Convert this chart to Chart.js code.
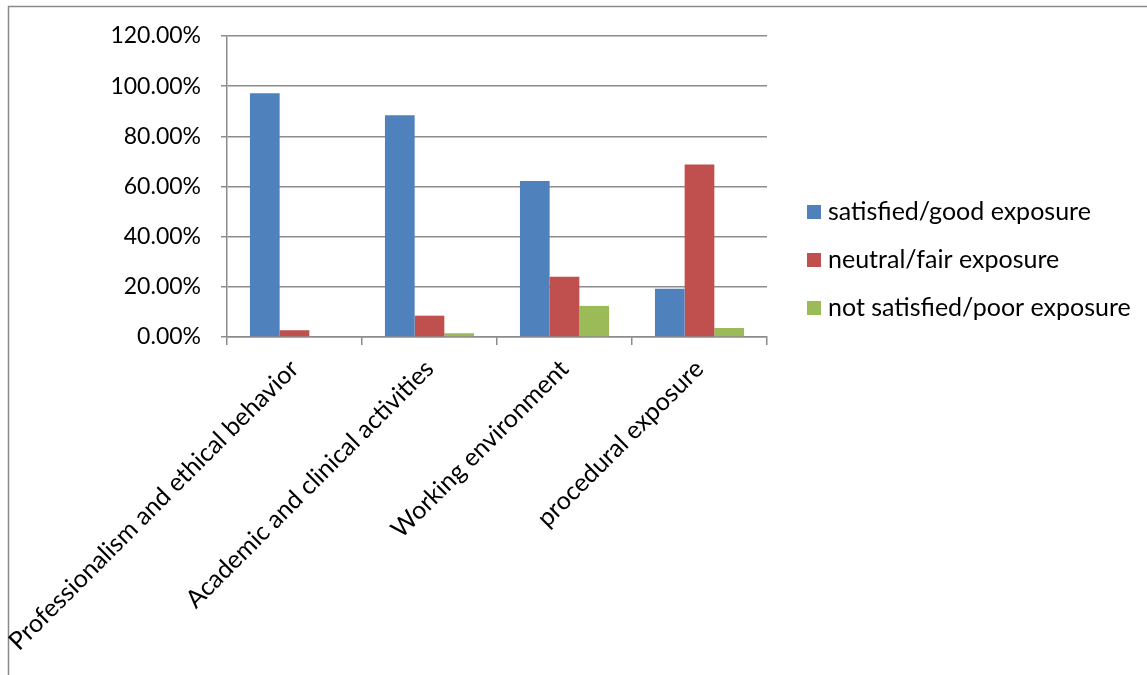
<!DOCTYPE html>
<html>
<head>
<meta charset="utf-8">
<script src="https://cdn.jsdelivr.net/npm/chart.js@4/dist/chart.umd.min.js"></script>
<style>
  html, body { margin: 0; padding: 0; background: #ffffff; }
  #wrap { width: 1147px; height: 675px; position: relative; }
</style>
</head>
<body>
<div id="wrap"><canvas id="c" width="1147" height="675"></canvas></div>
<script>
const categories = [
  "Professionalism and ethical behavior",
  "Academic and clinical activities",
  "Working environment",
  "procedural exposure"
];
const seriesNames = [
  "satisfied/good exposure",
  "neutral/fair exposure",
  "not satisfied/poor exposure"
];
const satisfiedGood = [97.2, 88.4, 62.2, 19.2];
const neutralFair = [2.7, 8.5, 24.0, 68.8];
const notSatisfiedPoor = [0, 1.5, 12.4, 3.6];
const yTicks = [0, 20, 40, 60, 80, 100, 120];
const seriesColors = ["#4F81BD", "#C0504D", "#9BBB59"];

const FONT = "Lato, 'Open Sans', sans-serif";
const GRID = "#8c8c8c";

const framePlugin = {
  id: "frame",
  beforeDraw(chart) {
    const ctx = chart.ctx;
    ctx.save();
    ctx.fillStyle = "#ffffff";
    ctx.fillRect(0, 0, chart.width, chart.height);
    ctx.strokeStyle = "#8a8a8a";
    ctx.lineWidth = 1.5;
    ctx.beginPath();
    ctx.moveTo(8.5, chart.height);
    ctx.lineTo(8.5, 6.5);
    ctx.lineTo(chart.width, 6.5);
    ctx.stroke();
    ctx.restore();
  }
};

const legendPlugin = {
  id: "sideLegend",
  afterDraw(chart) {
    const ctx = chart.ctx;
    ctx.save();
    ctx.font = "25px " + FONT;
    ctx.textBaseline = "middle";
    ctx.textAlign = "left";
    const x0 = chart.chartArea.right + 40;
    const yStart = 212, step = 48;
    chart.data.datasets.forEach((ds, i) => {
      const y = yStart + i * step;
      ctx.fillStyle = ds.backgroundColor;
      ctx.fillRect(x0, y - 7, 14, 14);
      ctx.fillStyle = "#000000";
      ctx.fillText(ds.label, x0 + 21, y);
    });
    ctx.restore();
  }
};

new Chart(document.getElementById("c"), {
  type: "bar",
  data: {
    labels: categories,
    datasets: [
      { label: seriesNames[0], data: satisfiedGood, backgroundColor: seriesColors[0] },
      { label: seriesNames[1], data: neutralFair, backgroundColor: seriesColors[1] },
      { label: seriesNames[2], data: notSatisfiedPoor, backgroundColor: seriesColors[2] }
    ]
  },
  options: {
    responsive: false,
    animation: false,
    layout: { padding: { left: 0, top: 36, right: 380, bottom: 0 } },
    datasets: { bar: { categoryPercentage: 0.66, barPercentage: 1.0, borderWidth: 0 } },
    plugins: {
      legend: { display: false },
      tooltip: { enabled: false },
      title: { display: false }
    },
    scales: {
      x: {
        grid: { display: true, drawOnChartArea: false, drawTicks: true, tickLength: 8, color: GRID, lineWidth: 1.5, offset: true },
        border: { display: true, color: GRID, width: 1.5 },
        ticks: {
          autoSkip: false, maxRotation: 45, minRotation: 45,
          color: "#000000", font: { family: FONT, size: 25 }, padding: 9
        },
        afterFit(scale) {
          scale.height = 675 - 337;
          scale.paddingLeft = 0;
          scale.paddingRight = 0;
        }
      },
      y: {
        min: 0, max: 120,
        afterBuildTicks(scale) { scale.ticks = yTicks.map(v => ({ value: v })); },
        grid: { color: GRID, lineWidth: 1.5, tickLength: 6, drawTicks: true },
        border: { display: true, color: GRID, width: 1.5 },
        ticks: {
          color: "#000000", font: { family: FONT, size: 23 }, padding: 20,
          callback: (v) => Number(v).toFixed(2) + "%"
        },
        afterFit(scale) { scale.width = 227; }
      }
    }
  },
  plugins: [framePlugin, legendPlugin]
});
</script>
</body>
</html>
